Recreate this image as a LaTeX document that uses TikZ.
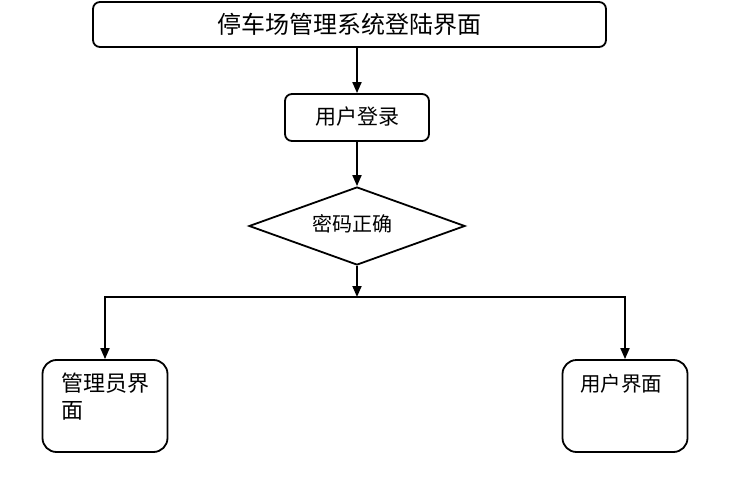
\documentclass[tikz,border=0pt]{standalone}
\usepackage{fontspec}
\newfontfamily\cjk{Noto Sans CJK SC}
\usetikzlibrary{shapes.geometric,arrows.meta}
\begin{document}
\begin{tikzpicture}[x=1pt,y=-1pt,
  box/.style={draw,line width=1.8pt,rounded corners=7pt,inner sep=0pt},
  bigbox/.style={draw,line width=1.8pt,rounded corners=14pt,inner sep=0pt,minimum width=125pt,minimum height=92pt},
  dia/.style={draw,line width=1.8pt,diamond,aspect=2.77,inner sep=0pt,minimum width=216pt,minimum height=78pt},
  txt/.style={font=\cjk\fontsize{21}{26}\selectfont,inner sep=0pt},
  arr/.style={line width=1.8pt,-{Triangle[length=11pt,width=9pt]}}]
\useasboundingbox (0,0) rectangle (736,500);
\node[box,minimum width=513pt,minimum height=45pt] (top) at (349.5,24.5) {};
\node[txt,font=\cjk\fontsize{24}{26}\selectfont] (toptxt) at (349,24) {停车场管理系统登陆界面};
\node[box,minimum width=144pt,minimum height=47pt] (login) at (357,117.5) {};
\node[txt] (logintxt) at (357,117) {用户登录};
\node[dia] (chk) at (357,226) {};
\node[txt,font=\cjk\fontsize{20}{26}\selectfont] (chktxt) at (352,224) {密码正确};
\coordinate (j) at (357,297);
\node[bigbox] (adm) at (105,406) {};
\node[txt,anchor=north west,align=left,font=\cjk\fontsize{22}{27}\selectfont] (admtxt) at (61,373) {管理员界\\面};
\node[bigbox] (usr) at (625,406) {};
\node[txt,anchor=north west,font=\cjk\fontsize{20.5}{26}\selectfont] (usrtxt) at (580,374) {用户界面};
\draw[arr] (357,47) -- (login.north);
\draw[arr] (login.south) -- (chk.north);
\draw[arr] (chk.south) -- (j);
\draw[arr] (j) -| (adm.north);
\draw[arr] (j) -| (usr.north);
\end{tikzpicture}
\end{document}
